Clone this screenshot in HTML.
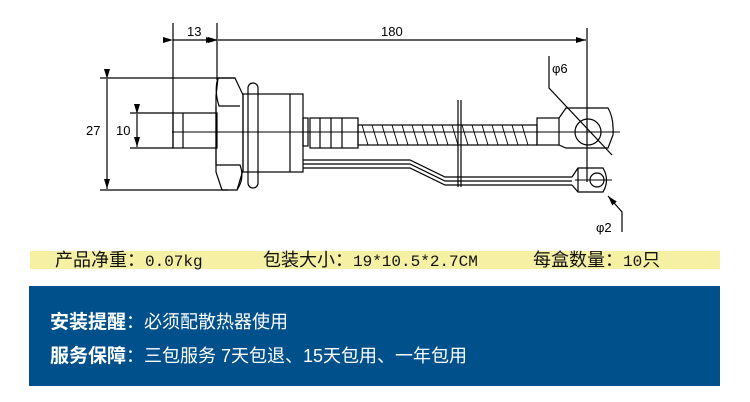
<!DOCTYPE html>
<html><head><meta charset="utf-8"><style>
body{margin:0;width:750px;height:402px;background:#fff;overflow:hidden;position:relative;font-family:"Liberation Sans","Noto Sans CJK SC",sans-serif}
svg{position:absolute;left:0;top:0}
.y{position:absolute;left:30px;top:251px;width:690px;height:18px;background:#f6f0a4}
.t{position:absolute;top:249px;font-size:18px;color:#111;white-space:nowrap;line-height:22px}
.m{font-family:"Liberation Mono","Noto Sans CJK SC",monospace;font-size:16px}
.b{position:absolute;left:29px;top:286px;width:691px;height:100px;background:#00508c}
.w{position:absolute;left:50px;color:#fff;font-size:18px;white-space:nowrap;line-height:24px}
.w b{font-size:19px}
</style></head><body>
<svg width="750" height="250" viewBox="0 0 750 250" fill="none" stroke="#000" stroke-width="1.2">
<defs><marker id="a" markerWidth="10" markerHeight="6" refX="10" refY="3" orient="auto" markerUnits="userSpaceOnUse"><path d="M0,0L10,3L0,6z" fill="#000" stroke="none"/></marker></defs>
<line x1="173" y1="23" x2="173" y2="148"/><line x1="217" y1="23" x2="217" y2="80"/>
<line x1="587" y1="28" x2="587" y2="182"/>
<line x1="173" y1="40" x2="216" y2="40" marker-start="url(#a)" marker-end="url(#a)"/>
<line x1="218" y1="40" x2="586" y2="40" marker-start="url(#a)" marker-end="url(#a)"/>
<line x1="100" y1="78" x2="235" y2="78"/><line x1="100" y1="190" x2="228" y2="190"/>
<line x1="107" y1="79" x2="107" y2="189" marker-start="url(#a)" marker-end="url(#a)"/>
<line x1="130" y1="113" x2="173" y2="113"/><line x1="130" y1="148" x2="173" y2="148"/>
<line x1="137" y1="114" x2="137" y2="147" marker-start="url(#a)" marker-end="url(#a)"/>
<line x1="172" y1="132" x2="620" y2="132" stroke-width="0.9"/>
<rect x="173" y="113" width="44" height="35"/><line x1="183" y1="113" x2="183" y2="148"/>
<path d="M218,78 L235,78 L243,95 L243,170 L237,190 L222,190 L216,172 L216,96 Z"/>
<path d="M218,78 Q214,90 219,106 L240,106"/><path d="M216,165 L240,165 Q245,178 237,190"/>
<line x1="216" y1="106" x2="216" y2="165"/>
<rect x="248" y="83" width="10" height="105" rx="5"/>
<rect x="243" y="94" width="60" height="78"/><line x1="290" y1="94" x2="290" y2="172"/>
<rect x="303" y="118" width="5" height="28"/>
<rect x="310" y="118" width="48" height="30"/>
<line x1="320" y1="118" x2="320" y2="148"/><line x1="331" y1="118" x2="331" y2="148"/><line x1="342" y1="118" x2="342" y2="148"/>
<rect x="358" y="125" width="179" height="20"/>
<g stroke-width="0.9">
<path d="M362,125l6,20M372,125l6,20M382,125l6,20M392,125l6,20M402,125l6,20M412,125l6,20M422,125l6,20M432,125l6,20M442,125l6,20M452,125l6,20M462,125l6,20M472,125l6,20M482,125l6,20M492,125l6,20M502,125l6,20M512,125l6,20M522,125l6,20"/>
</g>
<rect x="537" y="118" width="22" height="27"/>
<path d="M559,118 L566,108 L608,108 Q614,118 613,135 L608,148 L566,148 L559,145"/>
<circle cx="588" cy="132" r="13"/>
<line x1="458" y1="100" x2="458" y2="187"/><line x1="461" y1="100" x2="461" y2="187"/>
<path d="M303,160 L410,160 L445,177 L572,177"/>
<path d="M303,164 L410,164 L445,181 L572,181"/>
<path d="M303,168 L410,168 L445,185 L572,185"/>
<path d="M572,177 L578,168 L603,168 Q610,180 603,192 L578,192 L572,185"/>
<line x1="578" y1="168" x2="578" y2="192"/>
<circle cx="597" cy="180" r="7"/><line x1="575" y1="180" x2="612" y2="180" stroke-width="0.9"/>
<path d="M549,56 L549,88 L612,155"/>
<path d="M622,232 L622,212 L608,196" marker-end="url(#a)"/>
<g fill="#000" stroke="none" font-family="Liberation Sans,sans-serif" font-size="13">
<text x="187" y="36">13</text><text x="381" y="36">180</text>
<text x="86" y="135">27</text><text x="116" y="135">10</text>
<text x="552" y="73">φ6</text><text x="596" y="232">φ2</text>
</g>
</svg>
<div class="y"></div>
<div class="t" style="left:55px">产品净重：<span class="m">0.07kg</span></div>
<div class="t" style="left:263px">包装大小：<span class="m">19*10.5*2.7CM</span></div>
<div class="t" style="left:533px">每盒数量：<span class="m">10</span>只</div>
<div class="b"></div>
<div class="w" style="top:310px"><b>安装提醒</b>：必须配散热器使用</div>
<div class="w" style="top:344px"><b>服务保障</b>：三包服务 7天包退、15天包用、一年包用</div>
</body></html>
